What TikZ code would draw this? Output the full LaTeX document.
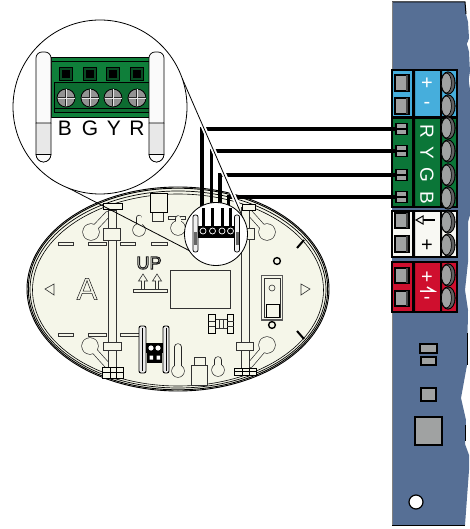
\documentclass[tikz,border=0pt]{standalone}
\usepackage{fontspec}
\setmainfont{Liberation Sans}
\definecolor{board}{HTML}{566F95}
\definecolor{tblue}{HTML}{46AEDC}
\definecolor{tgreen}{HTML}{0B7638}
\definecolor{tred}{HTML}{CF0F2E}
\definecolor{twhite}{HTML}{F8F8F3}
\definecolor{cream}{HTML}{F5F6E9}
\definecolor{padgrey}{HTML}{A0A2A2}
\definecolor{green2}{HTML}{0F7F3A}
\newcommand{\outl}[2]{\special{pdf:code q 1 Tr #1 w 0.1 G}#2\special{pdf:code Q}}
\newcommand{\scr}[2]{\fill[black] (#1,#2) ellipse (7.6 and 11.6);\fill[gray!75!black] (#1,#2) ellipse (6.5 and 10.5);\draw[black,line width=.7,fill=padgrey] (#1-1.6,#2) ellipse (5 and 10);}
\newcommand{\pad}[2]{\draw[padbox] (395,#1) rectangle (409,#2);\fill[gray!55!black] (405.5,#1) rectangle (408,#2);}
\newcommand{\pads}[1]{\draw[smallpad] (396,#1-5.5) rectangle (407,#1+5.5);\draw[black,line width=1.2] (396,#1) -- (407,#1);}
% keyhole: centre x,y, radius, neck end x,y, neck width
\newcommand{\khole}[6]{%
  \draw[black!85,line width=#6+1.3,line cap=round] (#1,#2) -- (#4,#5);
  \fill[black!85] (#1,#2) circle (#3+.65);
  \draw[cream,line width=#6,line cap=round] (#1,#2) -- (#4,#5);
  \fill[cream] (#1,#2) circle (#3);}
\tikzset{
  padbox/.style={draw=black,line width=1.4,fill=padgrey},
  smallpad/.style={draw=black,line width=1.4,fill=padgrey},
  blockout/.style={draw=black,line width=1.5},
  wire/.style={draw=black,line width=3.2},
  part/.style={draw=black!80,line width=.6,fill=cream},
  rimline/.style={draw=black,line width=.9},
  zoomline/.style={draw=black,line width=.8},
  blocklabel/.style={text=white,font=\fontsize{19}{19}\selectfont,inner sep=0},
}
\begin{document}
\begin{tikzpicture}[x=1pt,y=-1pt]
\useasboundingbox (0,0) rectangle (470,529);
\fill[white] (0,0) rectangle (470,529);
% ---- board
\path[fill=board] (392,2) -- (465,2) -- (466,14) -- (468,22) -- (469,38) -- (467,44) -- (469,52) -- (470,72) -- (469,80) -- (470,90)
  -- (470,215) -- (468,222) -- (468,262) -- (465,290) -- (468,310) -- (467,365) -- (461,398) -- (466,420) -- (465,444) -- (469,455) -- (469,470) -- (465,525) -- (392,525) -- cycle;
\draw[black,line width=1] (392,2) -- (465,2) -- (466,14);
\draw[black,line width=1] (392,525) -- (465,525);
\draw[gray,line width=1] (392,2) -- (392,70) (392,312) -- (392,525);
\draw[black,line width=1] (467.5,333) -- (467.5,365) (465.5,425) -- (465.5,441);
\fill[white] (469.5,39) -- (467,44) -- (469.5,49) -- (470,49) -- (470,39) -- cycle;
\fill[white] (470,72) -- (469,80) -- (470,88) -- cycle;
% ---- blue block
\fill[tblue] (392,70) rectangle (457,117);
\fill[black] (412,70) rectangle (415,117) (440,70) rectangle (442,117);
\draw[blockout] (392,70) rectangle (457,117);
\pad{75}{91}\pad{98}{114}
\scr{448}{83}\scr{448}{106}
\node[blocklabel,font=\fontsize{20}{20}\selectfont] (lblBp) at (427,84) {+};
\node[blocklabel,font=\fontsize{20}{20}\selectfont] (lblBm) at (427,105) {-};
% ---- green block
\fill[tgreen] (392,118) rectangle (457,207);
\fill[black] (412,118) rectangle (415,207) (440,118) rectangle (442,207);
\draw[blockout] (392,118) rectangle (457,207);
\pads{129}\pads{151}\pads{175}\pads{197}
\scr{448}{128}\scr{448}{151}\scr{448}{175}\scr{448}{198}
\node[blocklabel,rotate=-90] (lblR) at (427,131) {R};
\node[blocklabel,rotate=-90] (lblY) at (427,153) {Y};
\node[blocklabel,rotate=-90] (lblG) at (427,175) {G};
\node[blocklabel,rotate=-90] (lblB) at (427,198) {B};
% ---- white block
\fill[twhite] (392,211) rectangle (457,257);
\fill[black] (412,211) rectangle (415,257) (440,211) rectangle (442,257);
\draw[blockout] (392,211) rectangle (457,257);
\pad{213}{228}\pad{236}{252}
\scr{448}{222}\scr{448}{245}
\draw[black,line width=1.6] (422,220) -- (435,220);
\draw[black,line width=1,fill=twhite] (416,220) -- (423,216) -- (423,224) -- cycle;
\node[text=black,font=\fontsize{20}{20}\selectfont,inner sep=0] (lblWp) at (427,246) {+};
% ---- red block
\fill[tred] (392,262) rectangle (457,312);
\fill[black] (412,262) rectangle (415,312) (440,262) rectangle (442,312);
\draw[blockout] (392,262) rectangle (457,312);
\pad{268}{283}\pad{291}{306}
\scr{448}{275}\scr{448}{298}
\node[blocklabel,font=\fontsize{20}{20}\selectfont] (lblRp) at (427,278) {+};
\node[blocklabel,font=\fontsize{20}{20}\selectfont] (lblRm) at (427,300) {-};
\draw[white,line width=1.5] (420,291) -- (434,291) -- (427,287);
% ---- board parts
\draw[black,line width=1.6,fill=padgrey] (420,344) rectangle (437,353);
\draw[black,line width=1.3,fill=padgrey] (421,357) rectangle (436,365);
\draw[black,line width=1.3,fill=padgrey] (421,388) rectangle (436,401);
\draw[black,line width=1.3,fill=padgrey] (415,417) rectangle (442,445);
\draw[black,line width=1.2,fill=white] (416,502) circle (7);
% ---- enclosure
\path[fill=cream,rimline] (178,289) ellipse (151 and 102);
\draw[rimline] (178,289) ellipse (149.7 and 100.8);
\draw[rimline,line width=.7] (178,289.5) ellipse (148 and 98.5);
\draw[rimline,line width=.6] (178,290) ellipse (145.5 and 96);
% dashes
\foreach \a/\b in {58/73,88/106,120/135,151/167}{\draw[part] (\a,242.5) rectangle (\b,245.5);}
\foreach \a/\b in {58/73,88/106,120/139}{\draw[part] (\a,333) rectangle (\b,336);}
% diagonal keyholes
\khole{91}{232}{8}{108}{214}{5}
\khole{90}{346}{8}{108}{366}{5}
\khole{267}{232}{8}{249}{212}{5}
\khole{267}{345}{8}{250}{365}{5}
% posts
\draw[part] (108,210) rectangle (116,372);
\draw[part] (241,207) rectangle (249,372);
\draw[part] (103,228) rectangle (120,240);
\draw[part] (103,342) rectangle (121,350);
\draw[part] (239,228) rectangle (254,239);
\draw[part] (236,342) rectangle (253,350);
\draw[black,line width=.9,fill=cream] (103,203) rectangle (122,209);
\draw[black,line width=.9,fill=cream] (102,367) rectangle (123,378);
\draw[black,line width=.7] (102,372) -- (123,372) (110,367) -- (110,378) (116,367) -- (116,378);
\draw[black,line width=.9,fill=cream] (242,204) rectangle (255,210);
\draw[black,line width=.9,fill=cream] (234,368) rectangle (256,375);
\draw[black,line width=.7] (234,371) -- (256,371) (242,368) -- (242,375) (249,368) -- (249,375);
% keyholes
\khole{139}{230}{6}{139}{218}{5}
\draw[part] (168,216) rectangle (185,219);
\khole{178}{228}{7}{178}{218.5}{5}
\khole{178}{371}{6}{178}{347}{6}
\khole{218}{370}{6}{218}{360}{6}
% top & bottom tabs
\draw[part] (152,212) rectangle (163,221);
\draw[black,line width=.9,fill=cream] (150,193) rectangle (167,212);
\draw[part] (194,357) rectangle (205,365);
\draw[part] (191,365) rectangle (207,385);
% window
\draw[part] (170,270) rectangle (230,308);
% letters
\node[text=black!85,inner sep=0,font=\fontsize{31}{31}\selectfont] (lblA) at (87,289) {\outl{0.5}{A}};
\node[text=black,inner sep=0,font=\fontsize{18}{18}\selectfont] (lblUP) at (149,263) {\outl{0.9}{UP}};
\foreach \x in {143,157}{\draw[part] (\x-1.5,289) -- (\x-1.5,281) -- (\x-4.5,281) -- (\x,274) -- (\x+4.5,281) -- (\x+1.5,281) -- (\x+1.5,289);}
\draw[part] (133,289) rectangle (167,292);
\draw[part] (54,284) -- (45,289) -- (54,295) -- cycle;
\draw[part] (301,284) -- (310,289) -- (301,295) -- cycle;
\draw[black,line width=2] (297,248) -- (304,240) (297,331) -- (304,339);
\draw[black,line width=1.4] (277,261) circle (3.4) (272,325) circle (3.4);
% switch
\draw[draw=gray!70!black,line width=1.2,fill=cream] (261.5,275.5) rectangle (282.5,320);
\draw[part] (264,278) rectangle (280,317);
\draw[part] (272,288) circle (3);
\draw[black,line width=.9] (266,304) rectangle (279,317);
% H part
\draw[part] (215,319) rectangle (227,328);
\draw[part] (219,319) rectangle (223,328);
\draw[black,line width=.9,fill=cream] (208.5,314) rectangle (215,333);
\draw[black,line width=.9,fill=cream] (227,314) rectangle (233.5,333);
\draw[part] (208.5,321) -- (215,321) (208.5,326) -- (215,326) (227,321) -- (233.5,321) (227,326) -- (233.5,326);
% bottom connector
\draw[black,line width=.9,fill=black!8,rounded corners=2] (139,326) rectangle (146,373);
\draw[black,line width=.6] (142.5,328) -- (142.5,371);
\draw[black,line width=.9,fill=black!8,rounded corners=2] (163,326) rectangle (169,373);
\draw[black,line width=.6] (166,328) -- (166,371);
\fill[black] (146,343) rectangle (163,353);
\fill[white] (151,348) circle (2.6) (158,348) circle (2.6);
\fill[black] (147,353) rectangle (162,363);
\fill[white] (149.5,355.5) rectangle (153,359.5) (156.5,355.5) rectangle (160,359.5);
% ---- wires
\coordinate (padR) at (395,129);
\coordinate (padY) at (395,151);
\coordinate (padG) at (395,175);
\coordinate (padB) at (395,197);
\coordinate (c1) at (202,129);
\coordinate (c2) at (211.7,151);
\coordinate (c3) at (220,175);
\coordinate (c4) at (228.7,197);
\coordinate (d1) at (202,206);
\coordinate (d2) at (211.7,206);
\coordinate (d3) at (220,206);
\coordinate (d4) at (228.7,206);
\draw[wire] (padR) -- (c1) -- (d1);
\draw[wire] (padY) -- (c2) -- (d2);
\draw[wire] (padG) -- (c3) -- (d3);
\draw[wire] (padB) -- (c4) -- (d4);
% ---- zoom lines
\coordinate (t1) at (182,78);
\coordinate (t2) at (243,218);
\coordinate (t3) at (51,179);
\coordinate (t4) at (190,251);
\draw[white,line width=4.5] (199,117) -- (238,206);
\draw[zoomline] (t1) -- (t2);
\draw[zoomline] (t3) -- (t4);
% ---- small circle
\path[fill=white,zoomline] (216,234) circle (31.5);
\foreach \x in {203,212.5,222,230.5}{\draw[black,line width=3] (\x,208) -- (\x,226);}
\foreach \x in {193,234.5}{
  \draw[black,line width=.7,fill=black!6,rounded corners=2] (\x,215) rectangle (\x+5,252);
  \fill[black!60] (\x+1,232) rectangle (\x+4,245);
}
\fill[black] (198,226) rectangle (234,238);
\foreach \x in {203,212.5,222,230.5}{\draw[white,line width=.7] (\x,231) circle (3);}
\foreach \x in {207.7,217.2,226.3}{\fill[white] (\x-1.2,217) rectangle (\x+1.2,226);}
% ---- big circle
\path[fill=white,zoomline] (100,107) circle (87);
\draw[black,line width=.7,fill=green2] (51,57) rectangle (149,117);
\draw[black,line width=.8] (51,61) -- (149,61);
\draw[black,line width=.8,fill=green2!85!black] (54.5,82) rectangle (149,112);
\draw[black,line width=.7] (54.5,108) -- (149,108);
\foreach \x in {66,90,113,137}{
  \draw[black,line width=.7,fill=green2!60!black] (\x-6.5,67.5) rectangle (\x+6.5,80.5);
  \fill[black] (\x-4,70) rectangle (\x+4,78);
  \draw[black,line width=.8,fill=gray!85] (\x,98) circle (9);
  \draw[gray!30!black,line width=1.4] (\x-8.5,98) -- (\x+8.5,98) (\x,89.5) -- (\x,106.5);
  \draw[white!80!gray,line width=.5] (\x-8.5,98) -- (\x+8.5,98) (\x,89.5) -- (\x,106.5);
}
\foreach \x in {36,149}{
  \draw[black,line width=.7,fill=black!9] (\x,123) -- (\x,154) arc (180:0:7.5 and 8) -- (\x+15,123);
  \fill[black!2] (\x,154) arc (180:0:7.5 and 8) -- cycle;
  \draw[black,line width=.7,fill=black!2] (\x,123) -- (\x,58) arc (180:270:6) -- (\x+9,52) arc (270:360:6) -- (\x+15,123) -- cycle;
  \draw[black,line width=.7] (\x,154) -- (\x,154) arc (180:0:7.5 and 8);
  \draw[black,line width=.6] (\x,154) -- (\x+15,154);
}
\node[text=black,inner sep=0,font=\fontsize{21}{21}\selectfont] (lB) at (65,128) {B};
\node[text=black,inner sep=0,font=\fontsize{21}{21}\selectfont] (lG) at (90,128) {G};
\node[text=black,inner sep=0,font=\fontsize{21}{21}\selectfont] (lY) at (114,128) {Y};
\node[text=black,inner sep=0,font=\fontsize{21}{21}\selectfont] (lR) at (137,128) {R};
\end{tikzpicture}
\end{document}
